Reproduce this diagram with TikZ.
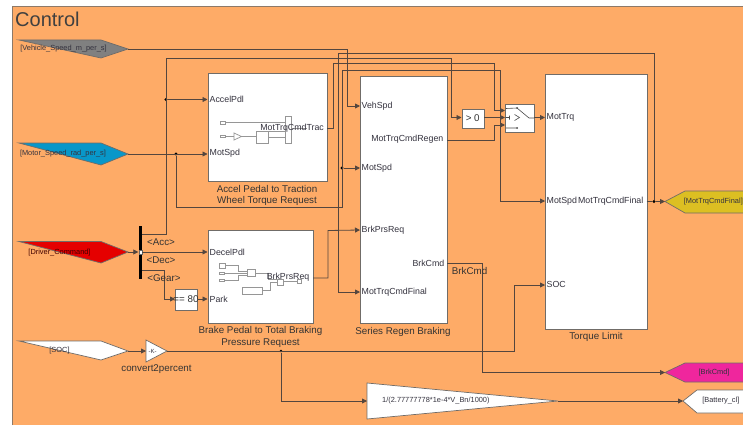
\documentclass[tikz,border=0pt]{standalone}
\usepackage{fontspec}
\setmainfont{Liberation Sans}
\usetikzlibrary{arrows.meta}
\definecolor{bgor}{RGB}{254,171,103}
\definecolor{wirec}{RGB}{84,70,62}
\definecolor{edgec}{RGB}{112,108,104}
\definecolor{txtc}{RGB}{52,50,62}
\definecolor{miniC}{RGB}{150,150,150}
\tikzset{
  x=1pt,y=-1pt,
  wire/.style={draw=wirec,line width=.8pt},
  feed/.style={wire,-{Triangle[length=5pt,width=5pt]}},
  block/.style={draw=edgec,fill=white,line width=1pt,anchor=north west,inner sep=0pt},
  tagshape/.style={draw=edgec,line width=.7pt},
  tagtext/.style={font=\fontsize{7.4}{8}\selectfont,text=txtc,inner sep=0pt},
  portl/.style={font=\fontsize{8.8}{10}\selectfont,text=txtc,inner sep=0pt,anchor=west},
  portr/.style={font=\fontsize{8.8}{10}\selectfont,text=txtc,inner sep=0pt,anchor=east},
  captext/.style={font=\fontsize{9.8}{11.5}\selectfont,text=black!80,inner sep=0pt,align=center},
  dotc/.style={circle,fill=black,inner sep=0pt,minimum size=3.2pt},
  mini/.style={draw=miniC,line width=.7pt},
  minifill/.style={draw=miniC,fill=white,line width=.7pt},
}
\begin{document}
\begin{tikzpicture}
\useasboundingbox (0,0) rectangle (743,425);
\fill[white] (0,0) rectangle (743,425);
\fill[bgor] (12.5,6.5) rectangle (743,425);
\draw[edgec!80!bgor,line width=.8pt] (12.5,425) -- (12.5,6.5) -- (743,6.5);
\node[font=\fontsize{20}{22}\selectfont,text=black!75,inner sep=0pt,anchor=west] (title) at (15,19.5) {Control};

% blocks
\node[block,minimum width=119.5pt,minimum height=108pt] (accel) at (207.5,73) {};
\node[block,minimum width=105.5pt,minimum height=93.5pt] (decel) at (207.5,229.5) {};
\node[block,minimum width=87pt,minimum height=247pt] (regen) at (360,76) {};
\node[block,minimum width=101.5pt,minimum height=254.5pt] (limit) at (545,74.5) {};
\node[block,minimum width=22.5pt,minimum height=19pt] (gtz) at (461.5,108.5) {};
\node[captext] (gtztxt) at (472.7,118) {> 0};
\node[block,minimum width=29pt,minimum height=28pt] (sw) at (505,104) {};
\node[block,minimum width=22pt,minimum height=21.5pt] (eq) at (175,288.5) {};
\node[captext] (eqtxt) at (186,299.3) {== 80};

% mini content: accel
\draw[mini] (225,122.7) -- (285,122.7);
\draw[mini] (225,136.5) -- (234,136.5);
\draw[minifill] (234,133) -- (241.5,136.5) -- (234,140) -- cycle;
\draw[mini] (241.5,136.5) -- (256,136.5);
\draw[minifill] (256,131) rectangle (268,143);
\draw[mini] (268,131) -- (285,131);
\draw[mini] (268,137) -- (285,137);
\draw[minifill] (285,116) rectangle (291,143);
\draw[mini] (291,128.5) -- (307,128.5);
\draw[minifill] (220.5,121.5) rectangle (225.5,124);
\draw[minifill] (220.5,135.2) rectangle (225.5,137.8);
% mini content: decel
\draw[minifill] (219,263) rectangle (225,268.5);
\draw[mini] (225,265.5) -- (238,265.5) -- (238,271.5) -- (247,271.5);
\draw[mini] (224,273) -- (247,273);
\draw[mini] (224,280) -- (238,280) -- (238,275) -- (247,275);
\draw[minifill] (219,272) rectangle (224,274.5);
\draw[minifill] (219,279) rectangle (224,281.5);
\draw[minifill] (247,269.5) rectangle (255.5,276.5);
\draw[mini] (255.5,273) -- (268,273) -- (268,279) -- (277,279);
\draw[minifill] (242,287) rectangle (262,294);
\draw[mini] (262,290.5) -- (270,290.5) -- (270,282) -- (277,282);
\draw[minifill] (277,279) rectangle (283,285);
\draw[mini] (283,281) -- (297,281);
\draw[minifill] (297,279.5) rectangle (301,283);

% tags
\draw[tagshape,fill=black!50] (19,40) -- (101,40) -- (128,49) -- (101,58) -- cycle;
\node[tagtext] (tagV) at (63.5,49) {[Vehicle\_Speed\_m\_per\_s]};
\draw[tagshape,fill=cyan!80!blue!85!green] (19,143) -- (101,143) -- (128,154) -- (101,165) -- cycle;
\node[tagtext] (tagM) at (63,154) {[Motor\_Speed\_rad\_per\_s]};
\draw[tagshape,fill=red!90!black] (19,241.5) -- (101,241.5) -- (128,252) -- (101,263) -- cycle;
\node[tagtext,text=black!75!red] (tagD) at (59.5,252.5) {[Driver\_Command]};
\draw[tagshape,fill=white] (19,341) -- (101,341) -- (128,351) -- (101,360) -- cycle;
\node[tagtext] (tagS) at (59.5,350.5) {[SOC]};
\draw[tagshape,fill=yellow!75!orange!85!black] (743,191) -- (685,191) -- (665,201.5) -- (685,213) -- (743,213);
\node[tagtext,anchor=east] (tagF) at (743,201.5) {[MotTrqCmdFinal]};
\draw[tagshape,fill=magenta!85!white] (743,363) -- (685,363) -- (665,372.5) -- (685,382) -- (743,382);
\node[tagtext] (tagB) at (714,372.5) {[BrkCmd]};
\draw[tagshape,fill=white] (743,390) -- (697,390) -- (683,401) -- (697,413) -- (743,413);
\node[tagtext,anchor=east] (tagC) at (739.5,401) {[Battery\_cl]};
\coordinate (vOut) at (128,49);
\coordinate (mOut) at (128,154);
\coordinate (dOut) at (128,252);
\coordinate (sOut) at (128,351);
\coordinate (fIn) at (665,201.5);
\coordinate (bIn) at (665,372.5);
\coordinate (cIn) at (683,401);

% bus, gains
\node[fill=black,minimum width=3.6pt,minimum height=53pt,inner sep=0pt,anchor=north] (bus) at (140.5,226) {};
\node[fill=white,draw=black!60,line width=.3pt,minimum width=2.6pt,minimum height=4pt,inner sep=0pt] (busp) at (140.5,252) {};
\draw[draw=edgec,fill=white,line width=.7pt] (146,340) -- (167,351) -- (146,362) -- cycle;
\node[font=\fontsize{6}{7}\selectfont,text=txtc,inner sep=0pt] (kgain) at (152.5,351) {-K-};
\draw[draw=edgec,fill=white,line width=.7pt] (367,383) -- (558,401) -- (367,419) -- cycle;
\node[tagtext,anchor=west] (bgain) at (382,401) {1/(2.77777778*1e-4*V\_Bn/1000)};
\coordinate (kIn) at (146,351);
\coordinate (kOut) at (167,351);
\coordinate (gIn) at (367,401);
\coordinate (gOut) at (558,401);

% ports
\node[portl] (pAcc) at (209.5,99.5) {AccelPdl};
\node[portl] (pMs1) at (209.5,153.5) {MotSpd};
\node[portr] (pTrac) at (324,128.5) {MotTrqCmdTrac};
\node[portl] (pDec) at (209.5,252) {DecelPdl};
\node[portl] (pPark) at (209.5,299.3) {Park};
\node[portr] (pBrk) at (309.5,277.5) {BrkPrsReq};
\node[portl] (pVeh) at (361.5,106) {VehSpd};
\node[portl] (pMs2) at (361.5,168) {MotSpd};
\node[portl] (pBpr) at (361.5,230) {BrkPrsReq};
\node[portl] (pMtf) at (361.5,292) {MotTrqCmdFinal};
\node[portr] (pReg) at (443.5,139.5) {MotTrqCmdRegen};
\node[portr] (pCmd) at (444.5,263) {BrkCmd};
\node[portl] (pTrq) at (546.5,117.5) {MotTrq};
\node[portl] (pMs3) at (546.5,201) {MotSpd};
\node[portl] (pSoc) at (546.5,284.5) {SOC};
\node[portr] (pFin) at (643.5,201) {MotTrqCmdFinal};

% input points on blocks
\coordinate (iAcc) at (207.5,99.5);
\coordinate (iMs1) at (207.5,154);
\coordinate (oTrac) at (327,128.5);
\coordinate (iDec) at (207.5,252);
\coordinate (iPark) at (207.5,299);
\coordinate (oBrk) at (313,278);
\coordinate (iVeh) at (360,106);
\coordinate (iMs2) at (360,168);
\coordinate (iBpr) at (360,230);
\coordinate (iMtf) at (360,292);
\coordinate (oReg) at (447,140);
\coordinate (oCmd) at (447,263);
\coordinate (iTrq) at (545,117.5);
\coordinate (iMs3) at (545,201);
\coordinate (iSoc) at (545,285);
\coordinate (oFin) at (646.5,201.5);
\coordinate (iGtz) at (461.5,117.5);
\coordinate (oGtz) at (484,117.5);
\coordinate (iSw1) at (505,110.5);
\coordinate (iSw2) at (505,117.5);
\coordinate (iSw3) at (505,125);
\coordinate (oSw) at (534,117.5);
\coordinate (iEq) at (175,299);
\coordinate (oEq) at (197,299);

% junctions
\node[dotc] (j1) at (166,99.5) {};
\node[dotc] (j2) at (176,154) {};
\node[dotc] (j3) at (342,168) {};
\node[dotc] (j4) at (654,201.5) {};
\node[dotc,minimum size=2.8pt] (j5) at (281,351) {};

% connectors
\draw[feed] (vOut) -- (347,49) -- (347,106) -- (iVeh);
\draw[feed] (mOut) -- (iMs1);
\draw[feed] (j2) -- (176,207) -- (342,207) -- (342,70) -- (500,70) -- (500,201) -- (iMs3);
\draw[feed] (j3) -- (iMs2);
\draw[feed] (dOut) -- (138.3,252);
\draw[feed] (142.3,234) -- (166,234) -- (166,58) -- (451,58) -- (451,117.5) -- (iGtz);
\draw[feed] (j1) -- (iAcc);
\draw[feed] (142.3,252) -- (iDec);
\draw[feed] (142.3,270) -- (164,270) -- (164,299) -- (iEq);
\draw[feed] (oEq) -- (iPark);
\draw[feed] (oTrac) -- (333,128.5) -- (333,63.5) -- (494,63.5) -- (494,110.5) -- (iSw1);
\draw[feed] (oGtz) -- (iSw2);
\draw[feed] (oReg) -- (494,140) -- (494,125) -- (iSw3);
\draw[feed] (oSw) -- (iTrq);
\draw[feed] (oBrk) -- (328,278) -- (328,230.5) -- (iBpr);
\draw[wire] (oFin) -- (j4);
\draw[feed] (j4) -- (fIn);
\draw[feed] (j4) -- (654,53) -- (338,53) -- (338,292) -- (iMtf);
\draw[feed] (oCmd) -- (482,263) -- (482,372.5) -- (bIn);
\draw[feed] (sOut) -- (kIn);
\draw[feed] (kOut) -- (514,351) -- (514,285) -- (iSoc);
\draw[feed] (j5) -- (281,401) -- (gIn);
\draw[feed] (gOut) -- (cIn);

% switch icon
\draw[draw=black!70,line width=.6pt] (506,108.5) -- (517,108) (517,108) -- (529,118) -- (534,118) (506,128) -- (517,128) (505.5,117.5) -- (509.5,117.5) (509.5,115.5) -- (509.5,119.5);
\fill[black!70] (517,108) circle (1pt) (517,128) circle (1pt);
\draw[draw=black!70,line width=.6pt] (514.5,114.5) -- (519.5,117.5) -- (514.5,120.5);

% captions
\node[captext] (cAccel) at (267,195.5) {Accel Pedal to Traction\\Wheel Torque Request};
\node[captext] (cDecel) at (260.5,337) {Brake Pedal to Total Braking\\Pressure Request};
\node[captext] (cRegen) at (403,332) {Series Regen Braking};
\node[captext] (cLimit) at (596,337) {Torque Limit};
\node[captext] (cConv) at (156.5,369) {convert2percent};
\node[captext] (cBrk) at (469.5,271) {BrkCmd};
\node[captext] (lAcc) at (161,242) {<Acc>};
\node[captext] (lDec) at (161,260) {<Dec>};
\node[captext] (lGear) at (164,278) {<Gear>};
\end{tikzpicture}
\end{document}
